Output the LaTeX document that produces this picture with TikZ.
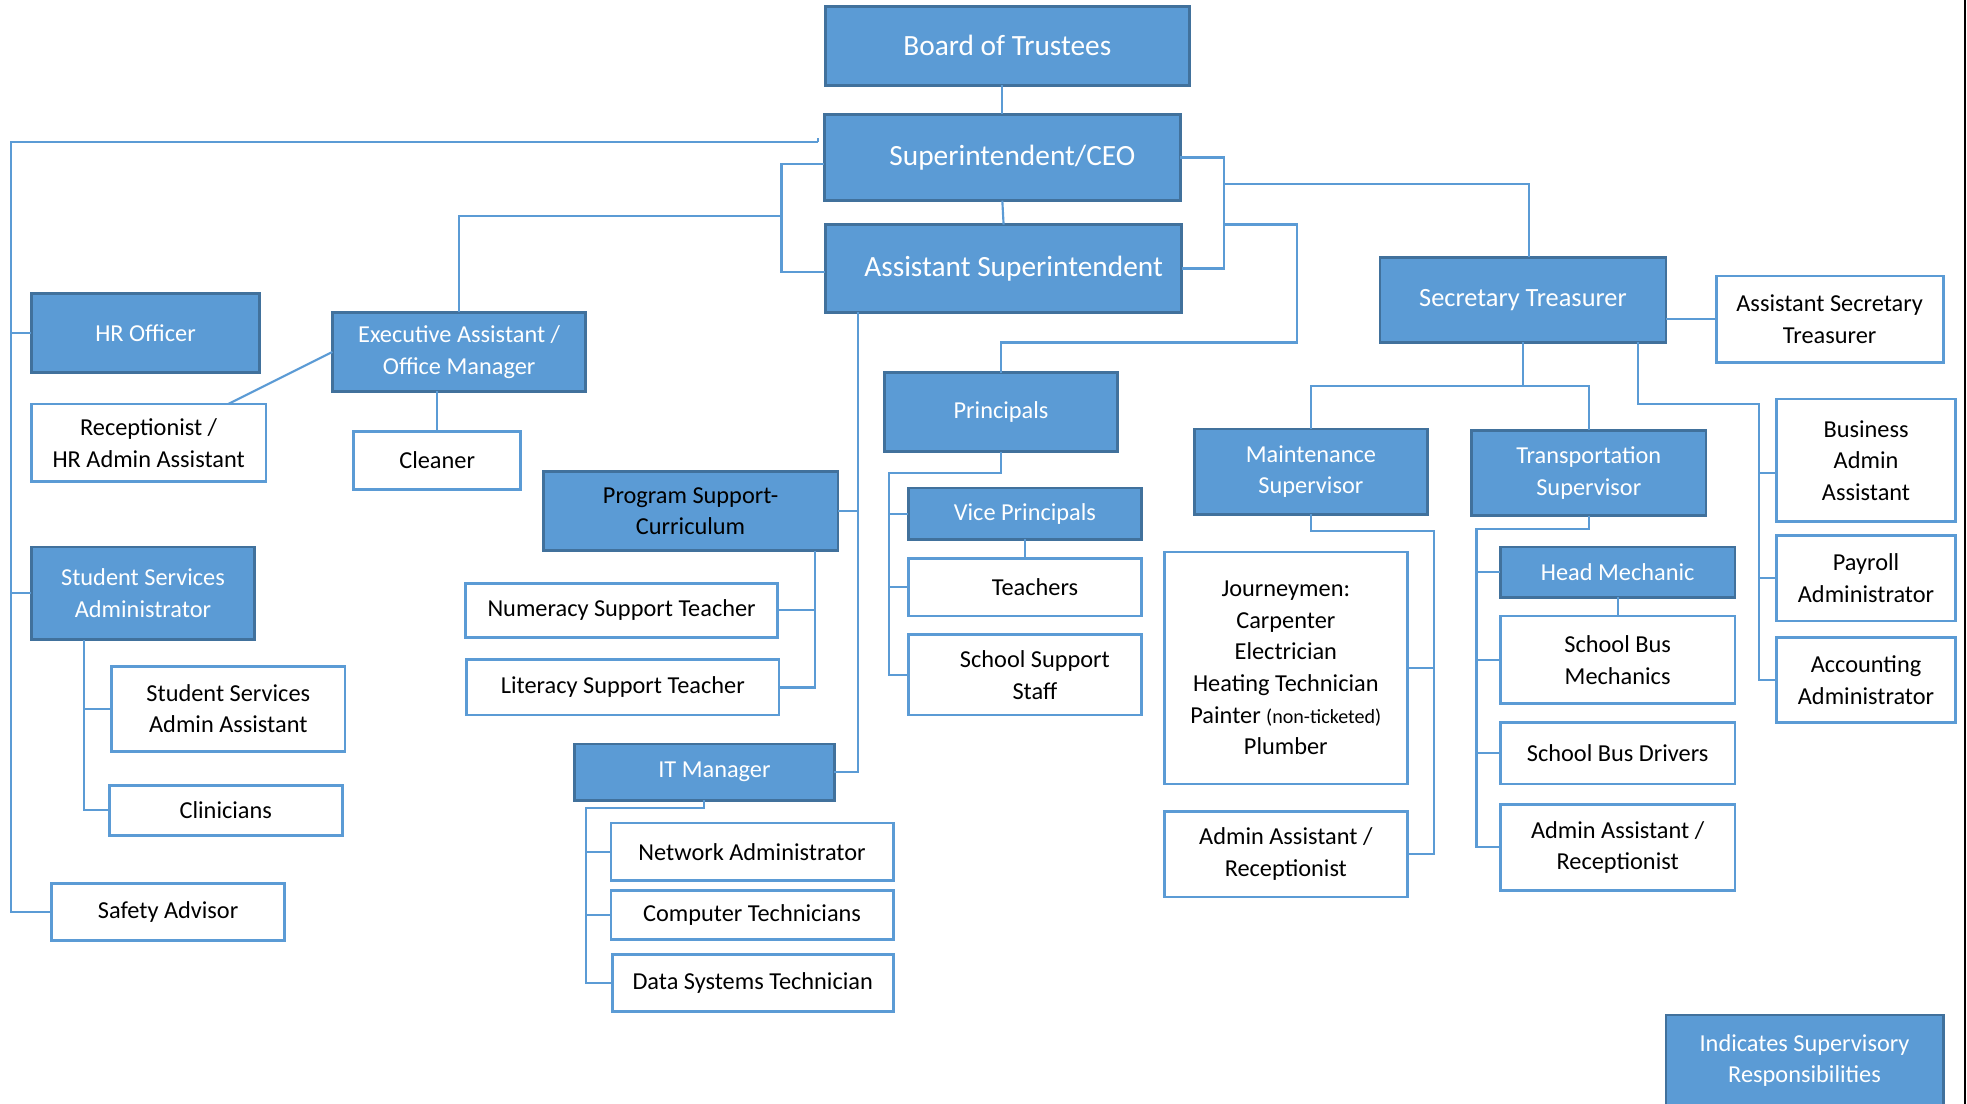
\documentclass[tikz,border=0pt]{standalone}
\usepackage{fontspec}
\setmainfont{Carlito}
\definecolor{bfill}{HTML}{5B9BD5}
\definecolor{bdark}{HTML}{41719C}
\newcommand\fnorm{\fontsize{9.7}{12.6}\selectfont}
\newcommand\flarge{\fontsize{11.7}{14}\selectfont}
\newcommand\fmid{\fontsize{10.5}{13}\selectfont}
\newcommand\bx[7]{%
  \pgfmathsetmacro\bxcx{(#3+#5)/2}%
  \pgfmathsetmacro\bxcy{(#4+#6)/2}%
  \pgfmathsetmacro\bxww{(#5-#3)*0.5}%
  \pgfmathsetmacro\bxhh{(#6-#4)*0.5}%
  \node[#1, minimum width=\bxww pt, minimum height=\bxhh pt] (#2) at (\bxcx,\bxcy) {#7};}
\tikzset{
  boss/.style={draw=bdark, fill=bfill, line width=1.1pt, text=white, font=\fnorm, align=center, inner sep=0pt, outer sep=0pt},
  staff/.style={draw=bfill, fill=white, line width=1.1pt, text=black, font=\fnorm, align=center, inner sep=0pt, outer sep=0pt},
  conn/.style={draw=bfill, line width=0.85pt}
}
\begin{document}
\begin{tikzpicture}[x=0.5pt, y=-0.5pt]
\useasboundingbox (0,0) rectangle (1568,880);
\fill[white] (0,0) rectangle (1568,880);
% top chain
\bx{boss, font=\flarge}{board}{658}{5}{948}{68}{Board of Trustees}
\bx{boss, font=\flarge}{sup}{657}{91}{941}{160}{\hspace*{8pt}Superintendent/CEO}
\bx{boss, font=\flarge}{asup}{658}{179}{942}{249}{\hspace*{8pt}Assistant Superintendent}
\bx{boss, font=\fmid}{sectr}{1100}{205}{1328}{273}{Secretary Treasurer}
\bx{staff}{asst}{1368}{220}{1549}{289}{Assistant Secretary\\Treasurer}
% left side
\bx{boss}{hr}{25}{234}{207}{297}{HR Officer}
\bx{boss}{exec}{265}{249}{467}{312}{Executive Assistant /\\Office Manager}
\bx{staff}{recep}{25}{322}{212}{384}{Receptionist /\\HR Admin Assistant}
\bx{staff}{clean}{282}{344}{415}{390}{Cleaner}
\bx{boss}{ssa}{25}{436}{203}{510}{Student Services\\Administrator}
\bx{staff}{ssaa}{89}{531}{275}{599}{Student Services\\Admin Assistant}
\bx{staff}{clin}{87}{626}{273}{666}{Clinicians}
\bx{staff}{safety}{41}{704}{227}{750}{Safety Advisor}
% program support and IT
\bx{boss, text=black}{prog}{433}{376}{668}{439}{Program Support-\\Curriculum}
\bx{staff}{num}{371}{465}{620}{508}{Numeracy Support Teacher}
\bx{staff}{lit}{372}{526}{621}{570}{Literacy Support Teacher}
\bx{boss}{itm}{458}{593}{665}{638}{\hspace*{8pt}IT Manager}
\bx{staff}{net}{487}{656}{712}{702}{Network Administrator}
\bx{staff}{comp}{487}{710}{712}{749}{Computer Technicians}
\bx{staff}{dst}{488}{761}{712}{806}{Data Systems Technician}
% principals
\bx{boss}{princ}{705}{297}{891}{360}{Principals}
\bx{boss}{vp}{724}{389}{910}{430}{Vice Principals}
\bx{staff}{teach}{724}{445}{910}{491}{\hspace*{8pt}Teachers}
\bx{staff}{sss}{724}{506}{910}{570}{\hspace*{8pt}School Support\\\hspace*{8pt}Staff}
% maintenance
\bx{boss}{maint}{952}{342}{1138}{410}{Maintenance\\Supervisor}
\bx{staff}{jour}{928}{440}{1122}{625}{Journeymen:\\Carpenter\\Electrician\\Heating Technician\\Painter {\fontsize{8}{12.6}\selectfont (non-ticketed)}\\Plumber}
\bx{staff}{maa}{928}{647}{1122}{715}{Admin Assistant /\\Receptionist}
% transportation
\bx{boss}{trans}{1173}{343}{1360}{411}{Transportation\\Supervisor}
\bx{boss}{hm}{1196}{436}{1383}{476}{Head Mechanic}
\bx{staff}{sbm}{1196}{491}{1383}{561}{School Bus\\Mechanics}
\bx{staff}{sbd}{1196}{576}{1383}{625}{School Bus Drivers}
\bx{staff}{taa}{1196}{641}{1383}{710}{Admin Assistant /\\Receptionist}
% business
\bx{staff}{bus}{1416}{318}{1559}{416}{Business\\Admin\\Assistant}
\bx{staff}{pay}{1416}{427}{1559}{495}{Payroll\\Administrator}
\bx{staff}{acct}{1416}{508}{1559}{576}{Accounting\\Administrator}
% legend
\bx{boss}{legend}{1328}{809}{1549}{882}{Indicates Supervisory\\Responsibilities}

% connectors
\draw[conn] (sup.north) -- (sup.north |- board.south);
\draw[conn] (sup.south) -- (asup.north);
\draw[conn] ([yshift=-2.5pt]sup.west) -- ++(-34,0) |- ([yshift=-1.5pt]asup.west);
\coordinate (jL) at (623,172);
\draw[conn] (exec.north) |- (jL);
\coordinate (jTop) at (652,113);
\coordinate (spine) at (9,113);
\draw[conn] (jTop) -- ++(0,-3);
\draw[conn] (jTop) -- (spine) |- (safety.west);
\draw[conn] (spine |- hr.west) -- (hr.west);
\draw[conn] (spine |- ssa.west) -- (ssa.west);
\draw[conn] (exec.west) -- ([xshift=-15pt]recep.north east);
\draw[conn] (clean.north) -- (clean.north |- exec.south);
\draw[conn] (sup.east) -- ++(35,0) |- (asup.east);
\coordinate (jR1) at (976,147);
\draw[conn] (jR1) -| ([xshift=2.5pt]sectr.north);
\coordinate (jR2) at (976,179);
\coordinate (jR3) at (1034,273);
\draw[conn] (jR2) -| (jR3) -| (princ.north);
\coordinate (asB) at ([xshift=13pt]asup.south west);
\draw[conn] (asB) |- (itm.east);
\draw[conn] (asB |- prog.east) -- (prog.east);
\coordinate (pB) at ([xshift=-9pt]prog.south east);
\draw[conn] (pB) |- (lit.east);
\draw[conn] (pB |- num.east) -- (num.east);
\coordinate (pV) at (709,377);
\draw[conn] (princ.south) |- (pV) |- (sss.west);
\draw[conn] (pV |- vp.west) -- (vp.west);
\draw[conn] (pV |- teach.west) -- (teach.west);
\draw[conn] (vp.south) -- (teach.north);
\coordinate (ssaB) at ([xshift=21pt]ssa.south west);
\draw[conn] (ssaB) |- (clin.west);
\draw[conn] (ssaB |- ssaa.west) -- (ssaa.west);
\coordinate (itV) at (467,644);
\draw[conn] (itm.south) |- (itV) |- (dst.west);
\draw[conn] (itV |- net.west) -- (net.west);
\draw[conn] (itV |- comp.west) -- (comp.west);
\coordinate (stJ) at (1214,308);
\draw[conn] (sectr.south) -- (stJ);
\draw[conn] (maint.north) |- (stJ) -| (trans.north);
\draw[conn] (asst.west) -- (asst.west -| sectr.east);
\coordinate (stB) at ([xshift=-11pt]sectr.south east);
\coordinate (bV) at (1402,322);
\draw[conn] (stB) |- (bV) |- (acct.west);
\draw[conn] (bV |- pay.west) -- (pay.west);
\draw[conn] ([yshift=-5pt]bus.west) -- ([yshift=-5pt]bus.west -| bV);
\coordinate (mV) at (1143,423);
\draw[conn] (maint.south) |- (mV) |- (maa.east);
\draw[conn] (mV |- jour.east) -- (jour.east);
\coordinate (tV) at (1177,422);
\draw[conn] (trans.south) |- (tV) |- (taa.west);
\draw[conn] (tV |- hm.west) -- (hm.west);
\draw[conn] (tV |- sbm.west) -- (sbm.west);
\draw[conn] (tV |- sbd.west) -- (sbd.west);
\draw[conn] (hm.south) -- (sbm.north);
% right edge rule
\coordinate (edgeT) at (1566.5,0);
\coordinate (edgeB) at (1566.5,880);
\draw[black, line width=0.8pt] (edgeT) -- (edgeB);
\end{tikzpicture}
\end{document}
